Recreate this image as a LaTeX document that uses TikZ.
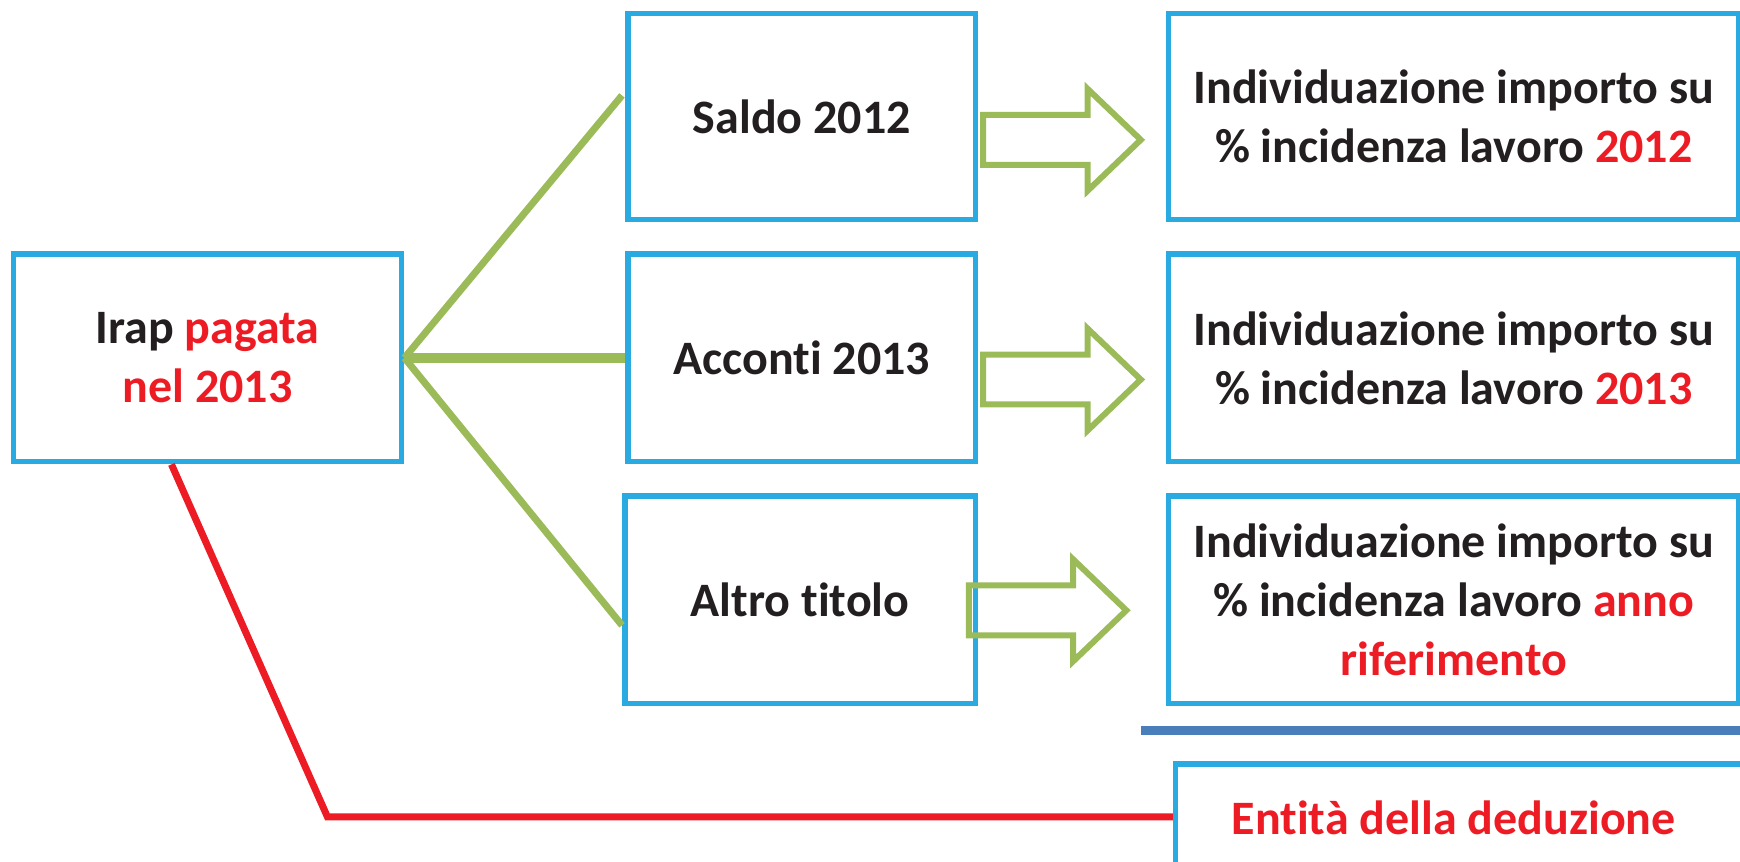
\documentclass[tikz,border=0pt]{standalone}
\usepackage{fontspec}
\setmainfont[Ligatures=NoCommon]{Carlito}
\usetikzlibrary{calc}
\definecolor{boxblue}{HTML}{29ABE2}
\definecolor{linegreen}{HTML}{9BBB59}
\definecolor{linered}{HTML}{ED1C24}
\definecolor{sepblue}{HTML}{4A7EBB}
\definecolor{txt}{HTML}{231F20}
\tikzset{
  bx/.style={draw=boxblue, line width=5.5pt, fill=white, inner sep=0pt, align=center,
    text=txt, font=\bfseries\fontsize{48}{59}\selectfont},
  gline/.style={draw=linegreen, line width=7pt},
  rline/.style={draw=linered, line width=7pt},
  pics/blockarrow/.style={code={
    \draw[linegreen, line width=6pt, line join=miter]
      (0,-22.5) -- (94,-22.5) -- (94,-46) -- (142,0) -- (94,46) -- (94,22.5) -- (0,22.5) -- cycle;}}
}
\newcommand{\rd}[1]{\textcolor{linered}{#1}}
\begin{document}
\begin{tikzpicture}[x=1.1097pt,y=-1.1097pt]
\useasboundingbox (0,0) rectangle (1568,775.9);
\clip (0,0) rectangle (1568,775.9);
% left box
\node[bx, minimum width=1.1097*350, minimum height=1.1097*187] (irap) at (187,322.5) {Irap \rd{pagata}\\\rd{nel 2013}};
% middle boxes
\node[bx, minimum width=1.1097*313, minimum height=1.1097*186] (saldo) at (722.5,105) {Saldo 2012};
\node[bx, minimum width=1.1097*313, minimum height=1.1097*187] (acc) at (722.5,322.5) {Acconti 2013};
\node[bx, minimum width=1.1097*316, minimum height=1.1097*187] (altro) at (721,540.5) {Altro titolo};
% right boxes
\node[bx, minimum width=1.1097*514, minimum height=1.1097*186] (r1) at (1310,105) {Individuazione importo su\\\% incidenza lavoro \rd{2012}};
\node[bx, minimum width=1.1097*514, minimum height=1.1097*187] (r2) at (1310,322.5) {Individuazione importo su\\\% incidenza lavoro \rd{2013}};
\node[bx, minimum width=1.1097*514, minimum height=1.1097*187] (r3) at (1310,540.5) {Individuazione importo su\\\% incidenza lavoro \rd{anno}\\\rd{riferimento}};
% bottom box (cut off)
\node[bx, minimum width=1.1097*530, minimum height=1.1097*200, anchor=north west] (ent) at (1057,686) {};
\node[font=\bfseries\fontsize{48}{59}\selectfont, text=linered] (entt) at (1310,737) {Entità della deduzione};
% separator
\coordinate (sepa) at (1028,658);
\coordinate (sepb) at (1568,658);
\draw[sepblue, line width=9pt] (sepa) -- (sepb);
% green connectors
\draw[gline] (irap.east) -- ($(saldo.west)+(-3,-19)$);
\draw[gline, line width=10pt] (irap.east) -- (acc.west);
\draw[gline] (irap.east) -- ($(altro.west)+(0,23)$);
% red connector
\coordinate (rc) at (295,736);
\draw[rline, line join=miter] ($(irap.south west)+(145,0)$) -- (rc) -- (ent.west |- rc);
% block arrows
\pic at (886,126) {blockarrow};
\pic at (886,342) {blockarrow};
\pic at (873,550) {blockarrow};
\end{tikzpicture}
\end{document}
